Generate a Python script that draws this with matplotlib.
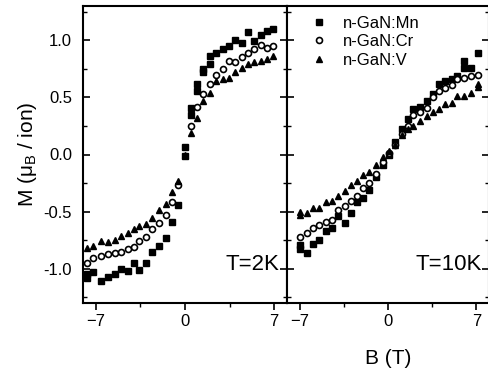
import matplotlib
matplotlib.use("Agg")
import matplotlib.pyplot as plt
from matplotlib.ticker import MultipleLocator, FixedLocator

plt.rcParams['font.family'] = ['Liberation Sans', 'DejaVu Sans']
plt.rcParams['mathtext.fontset'] = 'custom'
plt.rcParams['mathtext.rm'] = 'Liberation Sans'
plt.rcParams['mathtext.it'] = 'Liberation Sans'

# T = 2K panel
b2_mn = [-7.7, -7.7, -7.2, -6.55, -6.05, -5.5, -5.0, -4.5, -4.0, -3.6, -3.05, -2.55, -2.0, -1.5, -1.0, -0.55,
         0.0, 0.0, 0.45, 0.45, 0.95, 0.95, 1.45, 1.45, 1.95, 1.95, 2.45, 2.95, 3.45, 3.95, 4.45, 4.95, 5.45,
         5.95, 6.45, 6.9]
m2_mn = [-1.05, -1.08, -1.03, -1.11, -1.07, -1.05, -1.0, -1.02, -0.95, -1.01, -0.95, -0.85, -0.80, -0.73, -0.59,
         -0.44, -0.01, 0.07, 0.41, 0.35, 0.62, 0.56, 0.75, 0.72, 0.86, 0.79, 0.89, 0.92, 0.95, 1.00, 0.975, 1.07,
         0.99, 1.05, 1.08, 1.10]
b2_cr = [-7.7, -7.2, -6.55, -6.05, -5.5, -5.0, -4.5, -4.0, -3.6, -3.05, -2.55, -2.0, -1.5, -1.0, -0.55,
         0.45, 0.95, 1.45, 1.95, 2.45, 2.95, 3.45, 3.95, 4.45, 4.95, 5.45, 5.95, 6.45, 6.9]
m2_cr = [-0.95, -0.91, -0.89, -0.87, -0.86, -0.85, -0.83, -0.81, -0.76, -0.72, -0.65, -0.60, -0.53, -0.42, -0.27,
         0.25, 0.42, 0.53, 0.62, 0.70, 0.75, 0.82, 0.81, 0.85, 0.89, 0.92, 0.96, 0.93, 0.95]
b2_v = [-7.7, -7.2, -6.55, -6.05, -5.5, -5.0, -4.5, -4.0, -3.6, -3.05, -2.55, -2.0, -1.5, -1.0, -0.55,
        0.0, 0.45, 0.95, 1.45, 1.95, 2.45, 2.95, 3.45, 3.95, 4.45, 4.95, 5.45, 5.95, 6.45, 6.9]
m2_v = [-0.82, -0.80, -0.76, -0.77, -0.75, -0.71, -0.69, -0.65, -0.63, -0.61, -0.56, -0.49, -0.43, -0.33, -0.23,
        0.0, 0.19, 0.32, 0.47, 0.54, 0.64, 0.66, 0.67, 0.72, 0.76, 0.79, 0.81, 0.82, 0.84, 0.86]

# T = 10K panel
b10_mn = [-6.96, -6.96, -6.43, -5.93, -5.43, -4.9, -4.45, -3.93, -3.4, -2.97, -2.45, -1.95, -1.48, -0.95, -0.42,
          0.1, 0.55, 1.08, 1.56, 2.0, 2.53, 3.06, 3.54, 4.06, 4.5, 5.04, 5.48, 6.04, 6.04, 6.6, 7.1]
m10_mn = [-0.83, -0.79, -0.86, -0.78, -0.75, -0.67, -0.64, -0.54, -0.60, -0.51, -0.42, -0.38, -0.31, -0.20, -0.09,
          0.0, 0.11, 0.22, 0.31, 0.40, 0.42, 0.47, 0.53, 0.62, 0.64, 0.66, 0.69, 0.76, 0.82, 0.76, 0.89]
b10_cr = [-6.96, -6.43, -5.93, -5.43, -4.9, -4.45, -3.93, -3.4, -2.97, -2.45, -1.95, -1.48, -0.95, -0.42,
          0.1, 0.55, 1.08, 1.56, 2.0, 2.53, 3.06, 3.54, 4.06, 4.5, 5.04, 5.48, 6.04, 6.6, 7.1]
m10_cr = [-0.72, -0.69, -0.64, -0.62, -0.59, -0.57, -0.49, -0.45, -0.41, -0.36, -0.29, -0.25, -0.17, -0.07,
          0.01, 0.08, 0.18, 0.25, 0.35, 0.37, 0.41, 0.50, 0.56, 0.58, 0.61, 0.66, 0.67, 0.69, 0.70]
b10_v = [-6.96, -6.96, -6.43, -5.93, -5.43, -4.9, -4.45, -3.93, -3.4, -2.97, -2.45, -1.95, -1.48, -0.95, -0.42,
         0.1, 0.55, 1.08, 1.56, 2.0, 2.53, 3.06, 3.54, 4.06, 4.5, 5.04, 5.48, 6.04, 6.6, 7.1, 7.1]
m10_v = [-0.53, -0.50, -0.51, -0.47, -0.47, -0.42, -0.41, -0.36, -0.32, -0.27, -0.23, -0.18, -0.15, -0.09, -0.02,
         0.03, 0.08, 0.17, 0.22, 0.25, 0.29, 0.34, 0.37, 0.40, 0.44, 0.45, 0.51, 0.51, 0.54, 0.59, 0.62]

labels = ["n-GaN:Mn", "n-GaN:Cr", "n-GaN:V"]
xticks = [-7, 0, 7]

fig = plt.figure(figsize=(4.89, 3.70), dpi=100)
ax1 = fig.add_axes([83 / 489, 67 / 370, 204 / 489, 297 / 370])
ax2 = fig.add_axes([287 / 489, 67 / 370, 202 / 489, 297 / 370])

panels = [
    (ax1, (b2_mn, m2_mn), (b2_cr, m2_cr), (b2_v, m2_v), "T=2K"),
    (ax2, (b10_mn, m10_mn), (b10_cr, m10_cr), (b10_v, m10_v), "T=10K"),
]

for ax, mn, cr, v, tlabel in panels:
    ax.plot(mn[0], mn[1], 's', color='black', markersize=4.5, linestyle='none', label=labels[0])
    ax.plot(cr[0], cr[1], 'o', markerfacecolor='white', markeredgecolor='black', markeredgewidth=1.2,
            markersize=4.3, linestyle='none', label=labels[1])
    ax.plot(v[0], v[1], '^', color='black', markersize=4.8, linestyle='none', label=labels[2])
    ax.set_xlim(-8, 8)
    ax.set_ylim(-1.3, 1.3)
    ax.set_xticks(xticks)
    ax.xaxis.set_minor_locator(FixedLocator([-3.5, 3.5]))
    ax.yaxis.set_major_locator(MultipleLocator(0.5))
    ax.yaxis.set_minor_locator(MultipleLocator(0.25))
    ax.tick_params(axis='y', which='both', direction='in', left=True, right=True)
    ax.tick_params(axis='y', which='major', length=5, width=1.2, labelsize=12, pad=8)
    ax.tick_params(axis='y', which='minor', length=3, width=1.0)
    ax.tick_params(axis='x', which='both', direction='out', top=False)
    ax.tick_params(axis='x', which='major', length=5, width=1.2, labelsize=12, pad=3)
    ax.tick_params(axis='x', which='minor', length=3, width=1.0)
    for s in ax.spines.values():
        s.set_linewidth(1.5)
    ax.text(0.965, 0.13, tlabel, transform=ax.transAxes, ha='right', va='center', fontsize=16)

ax1.yaxis.set_major_formatter(plt.FormatStrFormatter('%.1f'))
ax2.tick_params(axis='y', which='both', labelleft=False)

ax1.set_ylabel(r'M ($\mu_\mathrm{B}$ / ion)', fontsize=15, labelpad=3)
fig.text(388 / 489, 1 - 359 / 370, 'B (T)', ha='center', va='center', fontsize=15)

ax2.legend(loc='upper left', bbox_to_anchor=(0.07, 1.0), frameon=False, fontsize=12,
           handlelength=1.0, handletextpad=0.9, labelspacing=0.2, borderaxespad=0.2)

fig.savefig('out.png', dpi=100)
